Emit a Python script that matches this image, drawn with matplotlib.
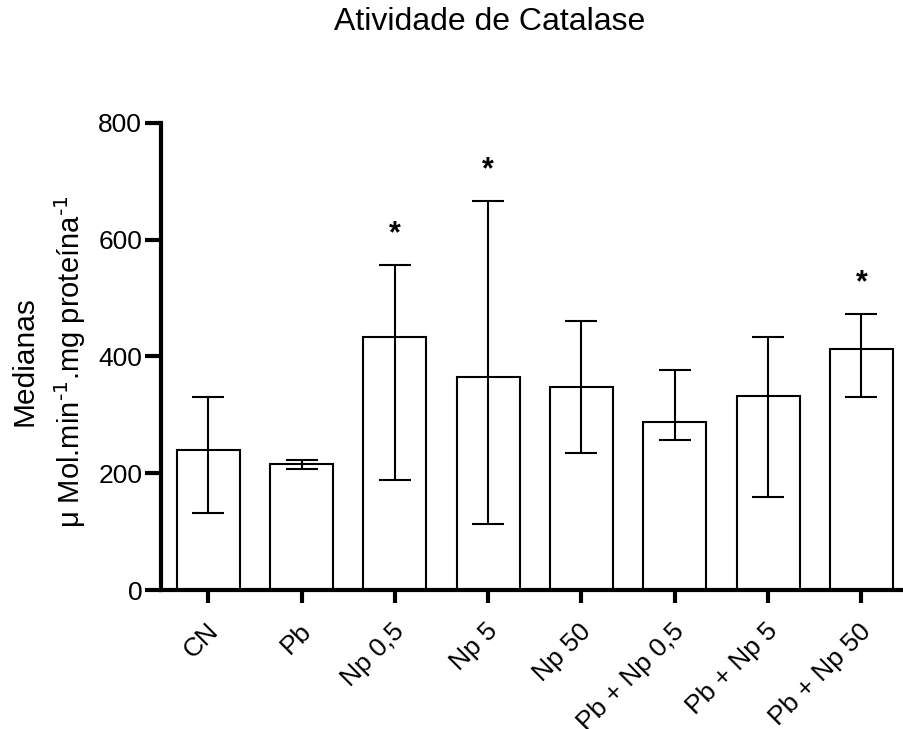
import numpy as np
import matplotlib.transforms as mtransforms
from matplotlib import pyplot as plt

# DATA
groups = ["CN", "Pb", "Np 0,5", "Np 5", "Np 50", "Pb + Np 0,5", "Pb + Np 5", "Pb + Np 50"]
medians = [240, 215, 433, 364, 347, 288, 332, 412]
err_low = [131, 207, 188, 113, 235, 257, 160, 331]
err_high = [331, 222, 556, 666, 460, 376, 433, 472]
significant = [False, False, True, True, False, False, False, True]

plt.rcParams['font.family'] = ['Liberation Sans', 'DejaVu Sans']

fig = plt.figure(figsize=(9.04, 7.29), dpi=100)
ax = fig.add_axes([161 / 904, 1 - 590 / 729, 1 - 161 / 904, (590 - 122.7) / 729])

x = np.arange(len(groups))
medians = np.array(medians)
yerr = [medians - np.array(err_low), np.array(err_high) - medians]

ax.bar(x, medians, width=0.675, color="white", edgecolor="black", linewidth=1.5, zorder=2)
ax.errorbar(x, medians, yerr=yerr, fmt="none", ecolor="black", elinewidth=1.5,
            capsize=11.5, capthick=1.5, zorder=3)

# significance marks
for xi, hi, sig in zip(x, err_high, significant):
    if sig:
        ax.annotate("*", xy=(xi, hi), xytext=(0, 22), textcoords="offset points",
                    ha="center", va="center", fontsize=22, fontweight="bold")

ax.set_xlim(-0.507, 7.457)
ax.set_ylim(0, 800)
ax.set_yticks([0, 200, 400, 600, 800])
ax.set_xticks(x)
ax.set_xticklabels(groups, rotation=45, ha="right", va="center", rotation_mode="anchor")

for side in ["top", "right"]:
    ax.spines[side].set_visible(False)
for side in ["left", "bottom"]:
    ax.spines[side].set_linewidth(3)

ax.tick_params(axis="y", length=11.5, width=3, pad=2, labelsize=19)
ax.tick_params(axis="x", length=9, width=3, pad=18, labelsize=19)

# nudge the rotated labels a little to the right (after tick_params, which resets transforms)
shift = mtransforms.ScaledTranslation(6 / 100, 0, fig.dpi_scale_trans)
for lbl in ax.get_xticklabels():
    lbl.set_transform(lbl.get_transform() + shift)

fig.text(490 / 904, 1 - 22 / 729, "Atividade de Catalase", ha="center", va="center", fontsize=23)
fig.text(25 / 904, 1 - 361 / 729, "Medianas", rotation=90, ha="center", va="center", fontsize=21.5)
fig.text(70 / 904, 1 - 362 / 729, r"μ Mol.min$^{\text{-1}}$.mg proteína$^{\text{-1}}$",
         rotation=90, ha="center", va="center", fontsize=21)

plt.savefig("out.png", dpi=100)
